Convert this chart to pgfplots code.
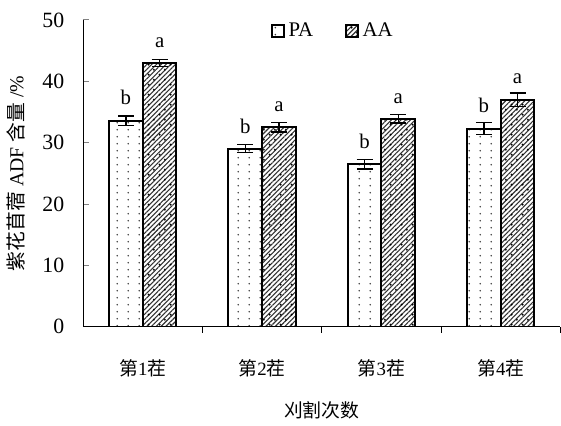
\documentclass[border=0pt]{standalone}
\usepackage{pgfplots}
\pgfplotsset{compat=1.18}
\usepackage{fontspec}
\setmainfont{Liberation Serif}
\newfontfamily\cjk{Noto Sans CJK SC}
\usetikzlibrary{patterns,patterns.meta}
\pgfdeclarepatternformonly{sparsedots}{\pgfpointorigin}{\pgfpoint{5.7pt}{3.5pt}}{\pgfpoint{5.7pt}{3.5pt}}{%
  \pgfpathcircle{\pgfpoint{2.8pt}{1.7pt}}{0.45pt}\pgfusepath{fill}}
\pgfdeclarepatternformonly{aadots}{\pgfpointorigin}{\pgfpoint{5.7pt}{5pt}}{\pgfpoint{5.7pt}{5pt}}{%
  \pgfpathcircle{\pgfpoint{1.4pt}{1.2pt}}{0.55pt}\pgfusepath{fill}
  \pgfpathcircle{\pgfpoint{4.2pt}{3.7pt}}{0.55pt}\pgfusepath{fill}}
\begin{document}
\begin{tikzpicture}
\begin{axis}[
  scale only axis,
  width=241pt, height=155pt,
  xmin=0.5, xmax=4.5,
  ymin=0, ymax=50,
  ytick={0,10,...,50},
  axis x line*=bottom,
  axis y line*=left,
  axis line style={line width=0.6pt, -},
  tick align=inside,
  major tick length=3pt,
  xtick={1,2,3,4},
  xticklabels={{\cjk 第}1{\cjk 茬},{\cjk 第}2{\cjk 茬},{\cjk 第}3{\cjk 茬},{\cjk 第}4{\cjk 茬}},
  x tick style={draw=none},
  minor xtick={1.5,2.5,3.5,4.5},
  minor x tick style={draw=black, line width=0.5pt},
  minor tick length=3pt,
  y tick style={line width=0.5pt},
  /pgf/number format/assume math mode=true,
  tick label style={font=\fontsize{11}{13}\selectfont},
  yticklabel style={xshift=-6pt},
  xticklabel style={yshift=-10pt, font=\fontsize{9.5}{12}\selectfont},
  xlabel={\cjk 刈割次数},
  xlabel style={font=\fontsize{9.5}{12}\selectfont, yshift=-5.5pt},
  ylabel={{\cjk 紫花苜蓿}~ADF~{\cjk 含量}~/\%},
  ylabel style={font=\fontsize{10}{12}\selectfont, yshift=2pt},
  ybar=0pt,
  bar width=17pt,
  error bars/y dir=both,
  error bars/y explicit,
  error bars/error bar style={line width=0.6pt},
  error bars/error mark options={rotate=90, mark size=4pt, line width=0.6pt},
  nodes near coords,
  point meta=explicit symbolic,
  every node near coord/.append style={font=\fontsize{10.5}{12}\selectfont, yshift=4pt},
  legend style={at={(0.525,0.965)}, anchor=center, draw=none, fill=none,
    legend columns=2, font=\fontsize{10.5}{12}\selectfont,
    /tikz/every even column/.append style={column sep=14pt}},
  legend image code/.code={\draw[#1] (0pt,-3pt) rectangle (6pt,3pt);},
]
\addplot[draw=black, line width=1pt, fill=white, pattern=sparsedots, pattern color=black!75]
  coordinates {
   (1,33.6) +- (0,0.75) [b]
   (2,29.0) +- (0,0.65) [b]
   (3,26.5) +- (0,0.8) [b]
   (4,32.3) +- (0,1.0) [b]
  };
\addplot[draw=black, line width=1pt, pattern={Lines[angle=45,distance=1.7pt,line width=0.55pt]}, pattern color=black!80,
  postaction={pattern=aadots, pattern color=black}]
  coordinates {
   (1,43.0) +- (0,0.55) [a]
   (2,32.5) +- (0,0.75) [a]
   (3,33.9) +- (0,0.7) [a]
   (4,37.0) +- (0,1.1) [a]
  };
\legend{PA,AA}
\end{axis}
\path ([yshift=3pt]current bounding box.north);
\end{tikzpicture}
\end{document}
